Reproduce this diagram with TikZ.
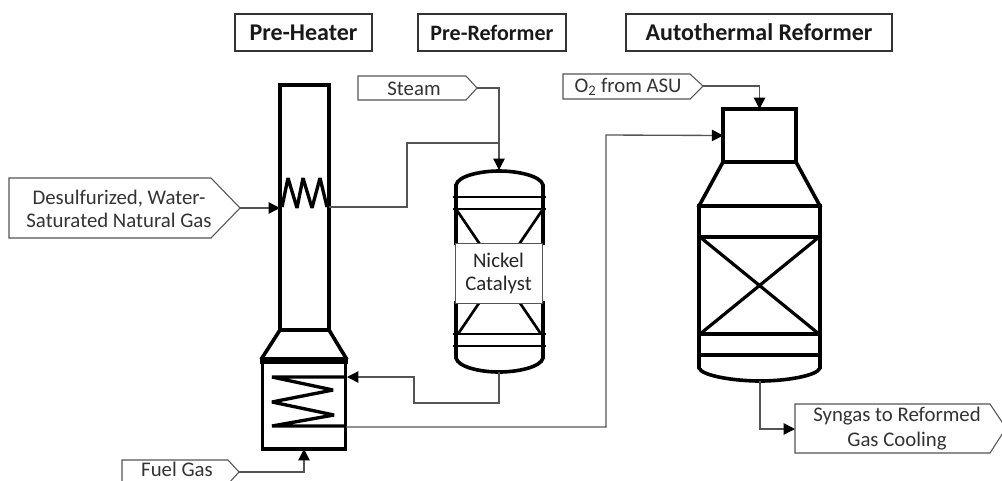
\documentclass[tikz,border=0pt]{standalone}
\usepackage{fontspec}
\setmainfont{Carlito}
\usetikzlibrary{arrows.meta}
\definecolor{linegray}{gray}{0.33}
\tikzset{
  x=0.75pt,y=-0.75pt,
  vessel/.style={line width=2.7pt,black,line cap=rect},
  heavy/.style={line width=3.6pt,black},
  vesselbox/.style={draw,line width=2.7pt,black,inner sep=0pt,outer sep=0pt},
  title/.style={draw=black!80,line width=1pt,font=\bfseries\fontsize{18}{20}\selectfont,inner sep=0pt,align=center,text=black!90},
  tag/.style={draw=linegray,line width=0.8pt,fill=white},
  tagtext/.style={font=\fontsize{15.6}{17.25}\selectfont,align=center,text=black!80,inner sep=0pt},
  flow/.style={draw=linegray,line width=1pt},
  arrowflow/.style={flow,-{Triangle[length=8.5pt,width=8.5pt,fill=black,color=black]}},
  coil/.style={line width=2.5pt,black,line join=bevel},
  catbox/.style={draw=linegray,line width=0.7pt,fill=white,minimum width=65.25pt,minimum height=45pt,inner sep=0pt,font=\fontsize{15.6}{17.25}\selectfont,align=center,text=black!85}
}
\begin{document}
\begin{tikzpicture}
\useasboundingbox (0,0) rectangle (1002,480);
% titles
\node[title,minimum width=102.75pt,minimum height=27.75pt] (t1) at (303.5,32.5) {Pre-Heater};
\node[title,font=\bfseries\fontsize{16.5}{20}\selectfont,minimum width=111pt,minimum height=27.75pt] (t2) at (492,32.5) {Pre-Reformer};
\node[title,minimum width=199.5pt,minimum height=27.75pt] (t3) at (759,32.5) {Autothermal Reformer};
% tags
\draw[tag] (9,178) -- (211,178) -- (240,208) -- (211,238) -- (9,238) -- cycle;
\coordinate (feedtip) at (240,208);
\node[tagtext] (feed) at (119,208.5) {Desulfurized, Water-\\Saturated Natural Gas};
\draw[tag] (358,76) -- (466,76) -- (477,88) -- (466,100) -- (358,100) -- cycle;
\coordinate (steamtip) at (477,88);
\node[tagtext] (steam) at (414,89) {Steam};
\draw[tag] (563,74) -- (690,74) -- (703,86) -- (690,99) -- (563,99) -- cycle;
\coordinate (o2tip) at (703,86);
\node[tagtext] (o2) at (628,87) {O\textsubscript{2} from ASU};
\draw[tag] (122,460) -- (228,460) -- (239,472) -- (228,484) -- (122,484) -- cycle;
\coordinate (fueltip) at (239,472);
\node[tagtext,anchor=base] (fuel) at (177,476.5) {Fuel Gas};
\draw[tag] (795,404) -- (990,404) -- (1006,428) -- (990,453) -- (795,453) -- cycle;
\coordinate (syngasin) at (795,429);
\node[tagtext,font=\fontsize{15.6}{18.75}\selectfont] (syngas) at (897,429) {Syngas to Reformed\\Gas Cooling};
% pre-heater
\node[vesselbox,minimum width=36.75pt,minimum height=183.75pt] (stack) at (304.5,207.5) {};
\draw[vessel] (280,330) -- (262,358) (329,330) -- (346,358);
\draw[heavy] (278,330) -- (331,330);
\node[vesselbox,minimum width=62.25pt,minimum height=66pt] (firebox) at (304,405) {};
\draw[line width=5pt,black] (260,360.5) -- (348,360.5);
\draw[coil] (282,207) -- (288,178) -- (297,208) -- (303,178) -- (312,208) -- (320,178) -- (327,207);
\draw[coil] (346,377) -- (272,377) -- (333,390) -- (272,402) -- (334,415) -- (272,426) -- (346,426);
\coordinate (coilhot) at (329,207);
\coordinate (firein) at (347,377);
\coordinate (fireout) at (346,427);
% pre-reformer
\draw[vessel] (456,243) -- (456,185) .. controls (458,176) and (480,171) .. (499,171) .. controls (518,171) and (541,176) .. (543,185) -- (543,243);
\draw[vessel] (456,303) -- (456,358) .. controls (458,367) and (480,372) .. (499,372) .. controls (518,372) and (541,367) .. (543,358) -- (543,303);
\draw[vessel,line width=2pt,line cap=butt] (453,197) -- (546,197) (453,209) -- (546,209) (453,334) -- (546,334) (453,346) -- (546,346);
\draw[vessel,line width=2pt,line cap=butt] (456,209) -- (541,334) (543,209) -- (458,334);
\node[catbox] (cat) at (498.5,273) {Nickel\\Catalyst};
\coordinate (pretop) at (499,170);
\coordinate (prebot) at (499,372);
% ATR
\node[vesselbox,minimum width=54.4pt,minimum height=39.75pt] (mixer) at (759.5,135.5) {};
\draw[vessel] (723,162) -- (699,206) (796,162) -- (820,206);
\draw[heavy] (697,206) -- (822,206);
\draw[vessel] (699,206) -- (699,368) .. controls (702,376) and (735,381) .. (760,381) .. controls (785,381) and (817,376) .. (820,368) -- (820,206);
\draw[vessel,line width=2.4pt,line cap=butt] (699,237) -- (820,237) (699,334) -- (820,334) (699,355) -- (820,355);
\draw[vessel,line width=2.4pt,line cap=butt] (700,237) -- (819,334) (819,237) -- (700,334);
\coordinate (atrbot) at (760,381);
% connectors
\draw[arrowflow] (feedtip) -- (stack.west |- feedtip);
\draw[flow] (coilhot) -| (407,143) -- (499,143);
\draw[arrowflow] (steamtip) -| (pretop);
\draw[arrowflow] (prebot) |- (414,403) |- (firein);
\draw[arrowflow] (fueltip) -| (firebox.south);
\draw[arrowflow] (fireout) -| (606,135) -- (mixer.west);
\draw[arrowflow] (o2tip) -| (mixer.north);
\draw[arrowflow] (atrbot) |- (syngasin);
\end{tikzpicture}
\end{document}
